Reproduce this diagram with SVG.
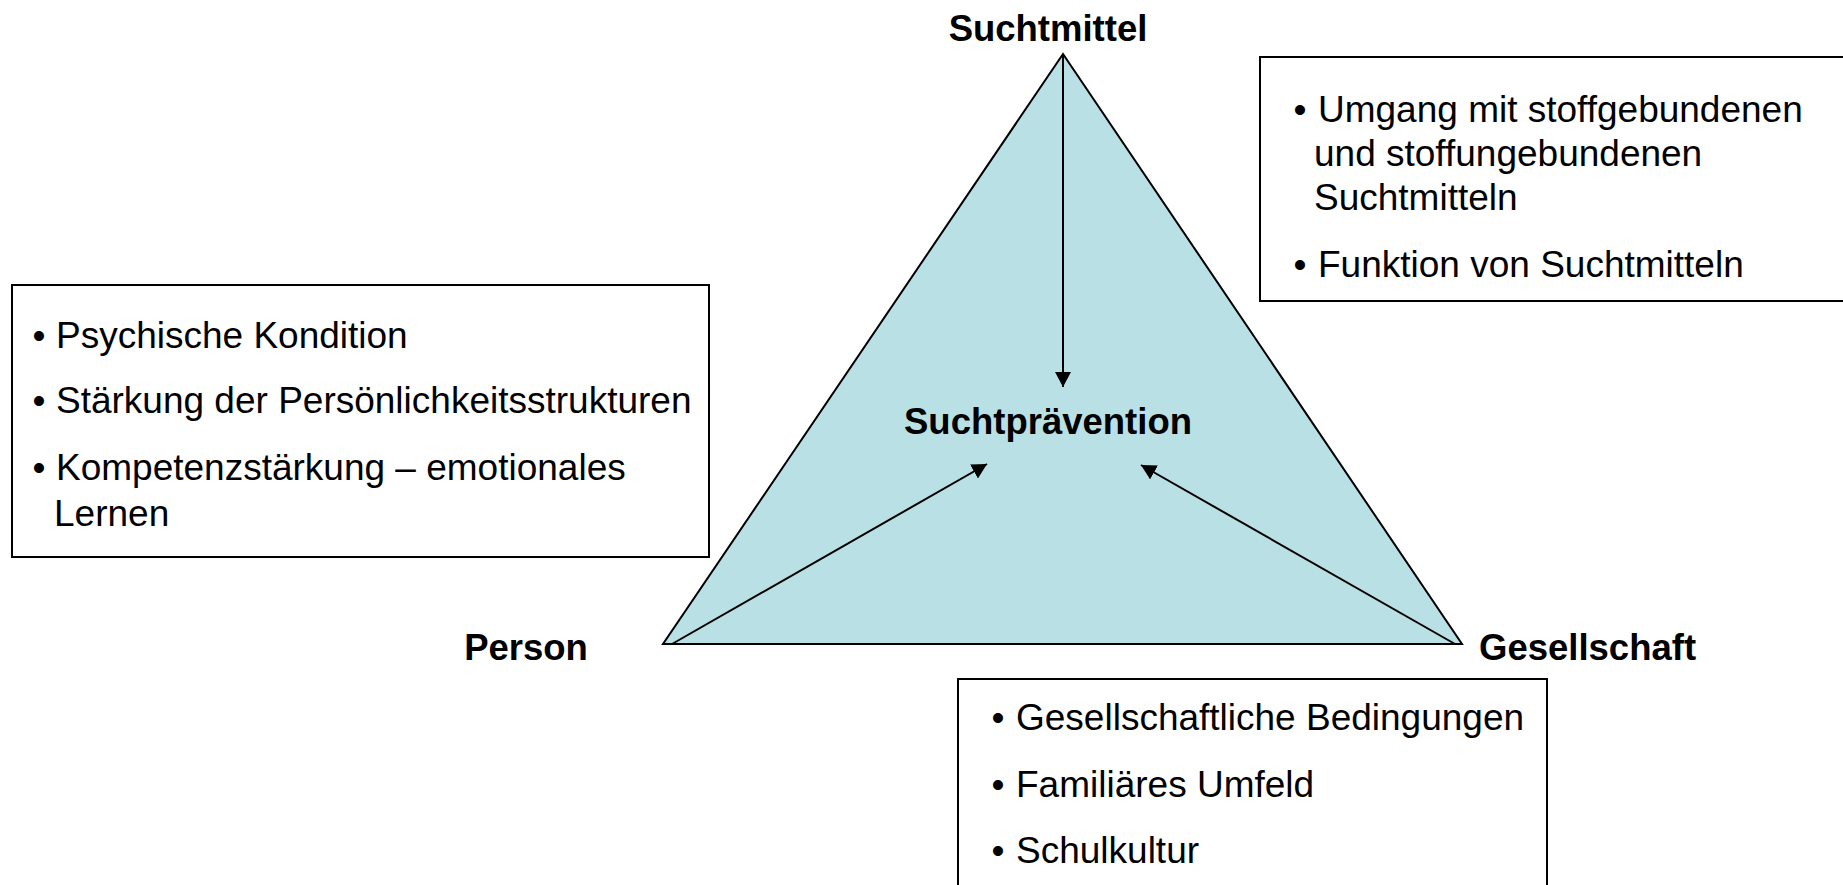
<svg xmlns="http://www.w3.org/2000/svg" width="1843" height="885" viewBox="0 0 1843 885">
  <style>
    .lbl { font-family: "Liberation Sans", Arial, sans-serif; font-weight: bold; font-size: 36.5px; fill: #000; }
    .txt { font-family: "Liberation Sans", Arial, sans-serif; font-size: 37px; fill: #000; }
    .bul { font-family: "Liberation Sans", Arial, sans-serif; font-size: 37px; fill: #000; text-anchor: middle; }
    .box { fill: #fff; stroke: #000; stroke-width: 2; }
    .con { stroke: #000; stroke-width: 2; fill: none; marker-end: url(#arr); }
  </style>
  <defs>
    <marker id="arr" markerUnits="userSpaceOnUse" markerWidth="16" markerHeight="17" refX="15" refY="8" orient="auto">
      <path d="M0,0 L15,8 L0,16 z" fill="#000"/>
    </marker>
  </defs>
  <rect width="1843" height="885" fill="#fff"/>

  <!-- central triangle -->
  <g id="triangle">
    <polygon points="1063,54 663,644 1462,644" fill="#B9E0E4" stroke="#000" stroke-width="2" stroke-linejoin="miter"/>
  </g>

  <!-- corner labels -->
  <g id="suchtmittel">
    <text class="lbl" x="1048" y="41" text-anchor="middle">Suchtmittel</text>
  </g>
  <g id="person">
    <text class="lbl" x="526" y="660" text-anchor="middle">Person</text>
  </g>
  <g id="gesellschaft">
    <text class="lbl" x="1479" y="660">Gesellschaft</text>
  </g>
  <g id="suchtpraevention">
    <text class="lbl" x="1048" y="434" text-anchor="middle">Suchtprävention</text>
  </g>

  <!-- arrows pointing to the centre -->
  <g id="connectors">
    <line class="con" x1="1063" y1="54" x2="1063" y2="387"/>
    <line class="con" x1="672" y1="644" x2="987" y2="464"/>
    <line class="con" x1="1455" y1="644" x2="1141" y2="465"/>
  </g>

  <!-- person factors -->
  <g id="box-person">
    <rect class="box" x="12" y="285" width="697" height="272"/>
    <text class="bul" x="39" y="348">•</text>
    <text class="txt" x="56" y="348">Psychische Kondition</text>
    <text class="bul" x="39" y="413">•</text>
    <text class="txt" x="56" y="413">Stärkung der Persönlichkeitsstrukturen</text>
    <text class="bul" x="39" y="480">•</text>
    <text class="txt" x="56" y="480">Kompetenzstärkung – emotionales</text>
    <text class="txt" x="54" y="526">Lernen</text>
  </g>

  <!-- substance factors -->
  <g id="box-suchtmittel">
    <rect class="box" x="1260" y="57" width="600" height="244"/>
    <text class="bul" x="1300" y="122">•</text>
    <text class="txt" x="1318" y="122">Umgang mit stoffgebundenen</text>
    <text class="txt" x="1314" y="166">und stoffungebundenen</text>
    <text class="txt" x="1314" y="210">Suchtmitteln</text>
    <text class="bul" x="1300" y="277">•</text>
    <text class="txt" x="1318" y="277">Funktion von Suchtmitteln</text>
  </g>

  <!-- social factors -->
  <g id="box-gesellschaft">
    <rect class="box" x="958" y="679" width="589" height="230"/>
    <text class="bul" x="998" y="730">•</text>
    <text class="txt" x="1016" y="730">Gesellschaftliche Bedingungen</text>
    <text class="bul" x="998" y="797">•</text>
    <text class="txt" x="1016" y="797">Familiäres Umfeld</text>
    <text class="bul" x="998" y="863">•</text>
    <text class="txt" x="1016" y="863">Schulkultur</text>
  </g>
</svg>
